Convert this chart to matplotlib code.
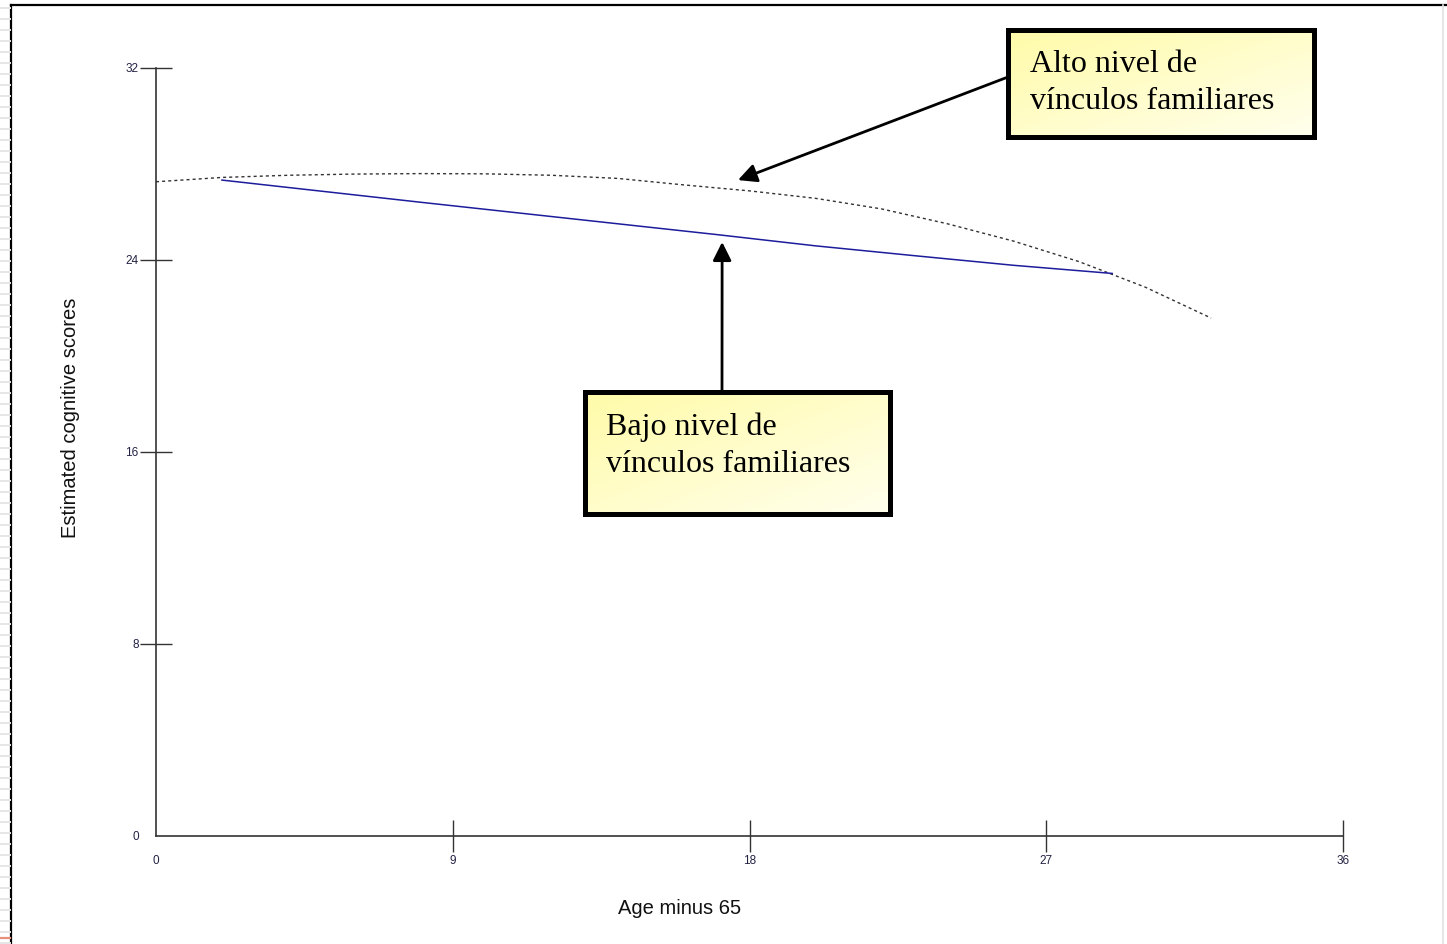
import matplotlib.pyplot as plt
import numpy as np
from matplotlib.lines import Line2D

# Curva de bajo nivel de vínculos familiares (línea azul continua)
edad_bajo = [2, 5, 8, 11, 14, 17, 20, 23, 26, 29]
puntaje_bajo = [27.33, 26.87, 26.41, 25.96, 25.51, 25.06, 24.59, 24.18, 23.78, 23.44]

# Curva de alto nivel de vínculos familiares (línea discontinua)
edad_alto = [0, 2, 4, 6, 8, 10, 12, 14, 16, 18, 20, 22, 24, 26, 28, 30, 32]
puntaje_alto = [27.26, 27.44, 27.53, 27.58, 27.60, 27.59, 27.53, 27.40, 27.13,
                26.88, 26.57, 26.13, 25.51, 24.79, 23.93, 22.87, 21.58]

x_ticks = [0, 9, 18, 27, 36]
y_ticks = [0, 8, 16, 24, 32]

texto_alto = ["Alto nivel de", "vínculos familiares"]
texto_bajo = ["Bajo nivel de", "vínculos familiares"]

W, H = 1447, 944
fig = plt.figure(figsize=(W / 100, H / 100), dpi=100)


def fx(px):
    return px / W


def fy(py):
    return 1 - py / H


# Marco de la página
fig.add_artist(Line2D([fx(11), fx(11)], [fy(5), 0], color='black', lw=1.6))
fig.add_artist(Line2D([fx(11), 1], [fy(5), fy(5)], color='black', lw=1.6))
fig.add_artist(Line2D([fx(1443), fx(1443)], [fy(5), 0], color='#e2e2e2', lw=1.2))
for py in np.arange(8, 944, 11):
    fig.add_artist(Line2D([0, fx(9.5)], [fy(py), fy(py)], color='#e6e6e6', lw=1.4))
fig.add_artist(Line2D([0, fx(9.5)], [fy(938), fy(938)], color='#e8907c', lw=1.6))

ax = fig.add_axes([fx(156), fy(836), fx(1343) - fx(156), fy(68) - fy(836)])

ax.plot(edad_alto, puntaje_alto, color='#333333', lw=1.0, linestyle=(0, (2.2, 2.2)))
ax.plot(edad_bajo, puntaje_bajo, color='#1c1c9c', lw=1.1)

ax.set_xlim(0, 36)
ax.set_ylim(0, 32)
ax.set_xticks(x_ticks)
ax.set_yticks(y_ticks)
ax.set_xticklabels([str(v) for v in x_ticks])
ax.set_yticklabels([str(v) for v in y_ticks])

for s in ['top', 'right']:
    ax.spines[s].set_visible(False)
for s in ['left', 'bottom']:
    ax.spines[s].set_color('#333333')
    ax.spines[s].set_linewidth(1.2)

ax.tick_params(axis='both', direction='inout', length=23, width=1.0,
               color='#333333', labelsize=8.5, labelcolor='#222244')
ax.tick_params(axis='x', pad=2)
ax.tick_params(axis='y', pad=1)
for lab in ax.get_xticklabels() + ax.get_yticklabels():
    lab.set_family('Liberation Sans')
ax.xaxis.get_major_ticks()[0].tick1line.set_visible(False)
ax.yaxis.get_major_ticks()[0].tick1line.set_visible(False)

fig.text(fx(680), fy(908), 'Age minus 65', ha='center', va='center',
         fontsize=14.5, family='Liberation Sans', color='#111111')
fig.text(fx(70), fy(418), 'Estimated cognitive scores', ha='center', va='center',
         rotation=90, fontsize=14.5, family='Liberation Sans', color='#111111')

# Flechas hacia cada curva
flecha = dict(arrowstyle='-|>', lw=2.0, color='black', mutation_scale=28,
              shrinkA=0, shrinkB=0)
ax.annotate('', xy=(17.65, 27.33), xycoords='data',
            xytext=(fx(1008), fy(77)), textcoords='figure fraction',
            arrowprops=flecha)
ax.annotate('', xy=(17.17, 24.75), xycoords='data',
            xytext=(fx(722), fy(391)), textcoords='figure fraction',
            arrowprops=flecha)

# Cuadros de texto con degradado amarillo (más intenso arriba a la izquierda)
gradiente = np.linspace(0, 1, 200)
gx, gy = np.meshgrid(gradiente, gradiente)
t = (gx + gy) / 2
c0 = np.array([1.0, 0.985, 0.66])
c1 = np.array([1.0, 1.0, 0.93])
img = c0[None, None, :] * (1 - t[..., None]) + c1[None, None, :] * t[..., None]


def cuadro(x0, y0, x1, y1, lineas, tx, bases):
    bx = fig.add_axes([fx(x0), fy(y1), fx(x1) - fx(x0), fy(y0) - fy(y1)])
    bx.imshow(img, aspect='auto', extent=[0, 1, 0, 1], origin='upper')
    bx.set_xticks([])
    bx.set_yticks([])
    for s in bx.spines.values():
        s.set_linewidth(3.6)
        s.set_color('black')
    for linea, b in zip(lineas, bases):
        fig.text(fx(tx), fy(b), linea, ha='left', va='baseline', fontsize=23,
                 family='Liberation Serif', color='black')


cuadro(1008, 30, 1314, 137, texto_alto, 1030, [72, 109])
cuadro(585, 392, 890, 514, texto_bajo, 606, [435, 472])

fig.savefig('out.png', dpi=100)
